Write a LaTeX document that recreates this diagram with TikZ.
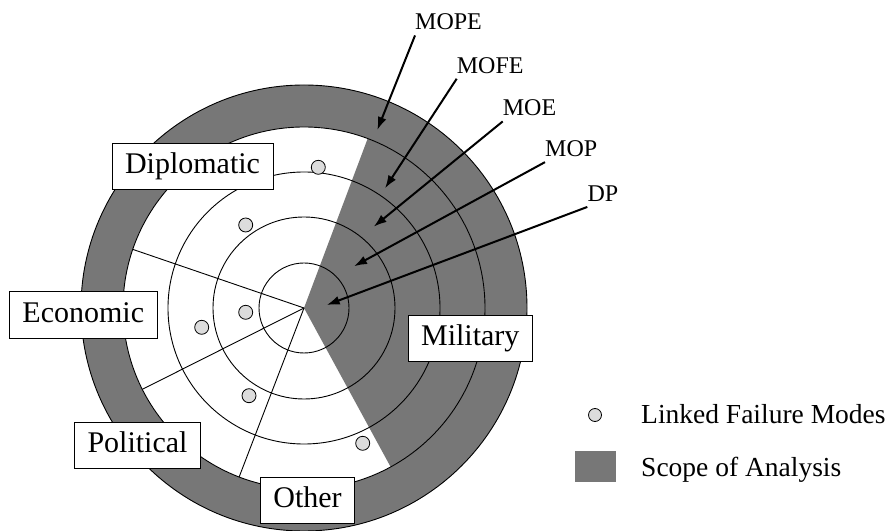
\documentclass[tikz,border=0pt]{standalone}
\usepackage{fontspec}
\setmainfont{Liberation Serif}
\usepackage{tikz}
\usetikzlibrary{arrows.meta,positioning,calc}
\definecolor{Scope}{HTML}{777777}
\definecolor{Dot}{HTML}{DCDCDC}
\tikzset{
  >=Latex,
  ring/.style={draw=black,line width=.9pt},
  sector/.style={draw=black,fill=white,line width=.9pt,font=\fontsize{30}{36}\selectfont,
    text height=21pt,text depth=6.5pt,inner xsep=13pt,inner ysep=9.5pt},
  fmode/.style={circle,draw=black,line width=.8pt,fill=Dot,minimum size=14pt,inner sep=0pt},
  measure/.style={font=\fontsize{24}{29}\selectfont,inner sep=0pt,anchor=base west},
  pointer/.style={-{Latex[length=13pt,width=9pt]},line width=2pt},
  legtext/.style={font=\fontsize{27.5}{33}\selectfont,inner sep=0pt,anchor=base west}
}
\begin{document}
\begin{tikzpicture}[x=1pt,y=1pt]
  \useasboundingbox (0,0) rectangle (893,530);
  \coordinate (C) at (304,222);
  % target rings and scope of analysis
  \fill[Scope,draw=black,line width=.9pt] (C) circle[radius=223];
  \fill[white] (C) circle[radius=181];
  \fill[Scope] (C) -- ++(-61.4:181) arc[start angle=-61.4,end angle=69.4,radius=181] -- cycle;
  \foreach \r in {45,91,136,181} \draw[ring] (C) circle[radius=\r];
  \foreach \a in {161.1,206.7,249} \draw[ring] (C) -- ++(\a:181);
  % linked failure modes
  \node[fmode] (f1) at (318.3,362.7) {};
  \node[fmode] (f2) at (245.7,305) {};
  \node[fmode] (f3) at (245.7,217.7) {};
  \node[fmode] (f4) at (201.7,202.7) {};
  \node[fmode] (f5) at (249,134.3) {};
  \node[fmode] (f6) at (362.7,86.7) {};
  % sectors
  \node[sector] (dipl) at (192.5,363.5) {Diplomatic};
  \node[sector] (econ) at (83.3,215) {Economic};
  \node[sector] (poli) at (137.5,84.7) {Political};
  \node[sector] (other) at (307.5,29.5) {Other};
  \node[sector] (mil) at (470.3,191.3) {Military};
  % measures
  \node[measure] (mope) at (415,500) {MOPE};
  \node[measure] (mofe) at (456.7,456.7) {MOFE};
  \node[measure] (moe) at (502.7,414) {MOE};
  \node[measure] (mop) at (545,373.3) {MOP};
  \node[measure] (dp) at (587.3,328.3) {DP};
  \coordinate (tmope) at (377.3,400);
  \coordinate (tmofe) at (385,341.7);
  \coordinate (tmoe) at (373.7,303.3);
  \coordinate (tmop) at (354,263.7);
  \coordinate (tdp) at (326.7,225);
  \foreach \m in {mope,mofe,moe,mop,dp}
    \draw[pointer] ([yshift=-5pt]\m.south west) -- (t\m);
  % legend
  \node[fmode,minimum size=13pt] (legdot) at (595,115) {};
  \node[legtext] (leglink) at (641,107) {Linked Failure Modes};
  \fill[Scope] (575,48) rectangle (616,79);
  \node[legtext] (legscope) at (641,53.3) {Scope of Analysis};
\end{tikzpicture}
\end{document}
